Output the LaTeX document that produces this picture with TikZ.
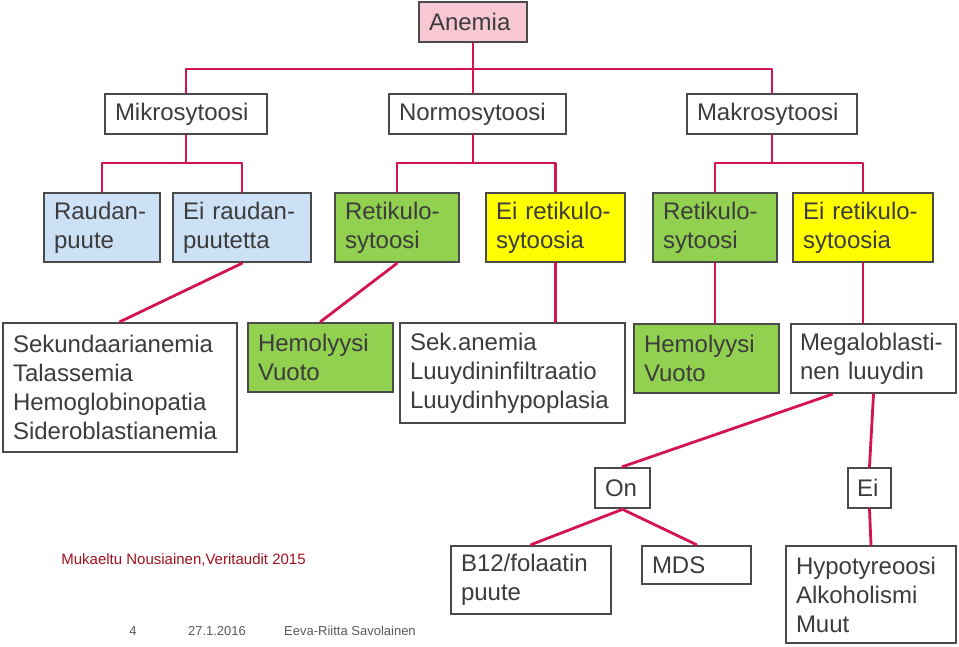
\documentclass[tikz,border=0pt]{standalone}
\usepackage{fontspec}
\setmainfont{Liberation Sans}
\definecolor{conncol}{HTML}{D4144F}
\definecolor{boxcol}{HTML}{4A4A4A}
\definecolor{txtcol}{HTML}{3C3C3C}
\definecolor{pinkfill}{HTML}{F8C7D4}
\definecolor{bluefill}{HTML}{CCE0F6}
\definecolor{greenfill}{HTML}{92D050}
\definecolor{yellowfill}{HTML}{FFFF00}
\definecolor{footred}{HTML}{A0101E}
\definecolor{footgray}{HTML}{595959}
\begin{document}
\begin{tikzpicture}[x=1pt,y=-1pt,
  box/.style={draw=boxcol, line width=2.6pt, inner xsep=10pt, inner ysep=0pt,
    align=left, text=txtcol, font=\fontsize{24}{29}\selectfont, anchor=center},
  conn/.style={draw=conncol, line width=2.8pt, line cap=round, line join=round},
  foot/.style={inner sep=0pt, anchor=center}]
\useasboundingbox (0,0) rectangle (959,646);
% level 1
\node[box, fill=pinkfill, text width=88pt, minimum height=40pt] (anemia) at (473,22) {Anemia};
% level 2
\node[box, fill=white, text width=142pt, minimum height=40pt] (mikro) at (186,114) {Mikrosytoosi};
\node[box, fill=white, text width=157pt, minimum height=40pt] (normo) at (477.5,114) {Normosytoosi};
\node[box, fill=white, text width=150pt, minimum height=40pt] (makro) at (772,114) {Makrosytoosi};
% level 3
\node[box, fill=bluefill, text width=96pt, minimum height=69pt] (rp) at (102,227.5) {Raudan-\\puute};
\node[box, fill=bluefill, text width=118pt, minimum height=69pt] (erp) at (242,227.5) {Ei raudan-\\puutetta};
\node[box, fill=greenfill, text width=104pt, minimum height=69pt] (r1) at (397,227.5) {Retikulo-\\sytoosi};
\node[box, fill=yellowfill, text width=119pt, minimum height=69pt] (er1) at (555.5,227.5) {Ei retikulo-\\sytoosia};
\node[box, fill=greenfill, text width=104pt, minimum height=69pt] (r2) at (715,227.5) {Retikulo-\\sytoosi};
\node[box, fill=yellowfill, text width=120pt, minimum height=69pt] (er2) at (863,227.5) {Ei retikulo-\\sytoosia};
% level 4
\node[box, fill=white, text width=214pt, minimum height=129pt] (sek) at (120,387.5) {Sekundaarianemia\\Talassemia\\Hemoglobinopatia\\Sideroblastianemia};
\node[box, fill=greenfill, text width=125pt, minimum height=69pt] (hem1) at (320.5,357.5) {Hemolyysi\\Vuoto};
\node[box, fill=white, text width=205pt, minimum height=100pt] (seka) at (512.5,373) {Sek.anemia\\Luuydininfiltraatio\\Luuydinhypoplasia};
\node[box, fill=greenfill, text width=125pt, minimum height=69pt] (hem2) at (706.5,358.5) {Hemolyysi\\Vuoto};
\node[box, fill=white, text width=147pt, inner xsep=9pt, minimum height=69pt] (mega) at (873.5,358.5) {Megaloblasti-\\nen luuydin};
% level 5
\node[box, fill=white, text width=35pt, minimum height=40pt] (on) at (622.5,488) {On};
\node[box, fill=white, text width=25pt, inner xsep=9pt, minimum height=40pt] (ei) at (869.5,488) {Ei};
% level 6
\node[box, fill=white, text width=140pt, minimum height=68pt] (b12) at (531,580) {B12/folaatin\\puute};
\node[box, fill=white, text width=89pt, minimum height=38pt] (mds) at (696.5,565) {MDS};
\node[box, fill=white, text width=150pt, minimum height=97pt] (hypo) at (871,594.5) {Hypotyreoosi\\Alkoholismi\\Muut};
% connectors
\coordinate (busA) at (0,69);
\coordinate (busB) at (0,163);
\draw[conn] (anemia.south) -- (anemia.south |- normo.north);
\draw[conn] (mikro.north) -- (mikro.north |- busA) -- (makro.north |- busA) -- (makro.north);
\draw[conn] (mikro.south) -- (mikro.south |- busB);
\draw[conn] (rp.north) -- (rp.north |- busB) -- (erp.north |- busB) -- (erp.north);
\draw[conn] ([xshift=-4.5pt]normo.south) -- ([xshift=-4.5pt]normo.south |- busB);
\draw[conn] (r1.north) -- (r1.north |- busB) -- (er1.north |- busB) -- (er1.north);
\draw[conn] (makro.south) -- (makro.south |- busB);
\draw[conn] (r2.north) -- (r2.north |- busB) -- (er2.north |- busB) -- (er2.north);
\draw[conn] (erp.south) -- (sek.north);
\draw[conn] (r1.south) -- (hem1.north);
\draw[conn] (er1.south) -- (er1.south |- seka.north);
\draw[conn] (r2.south) -- (r2.south |- hem2.north);
\draw[conn] (er2.south) -- (er2.south |- mega.north);
\draw[conn] ([xshift=-41.5pt]mega.south) -- (on.north);
\draw[conn] (mega.south) -- (ei.north);
\draw[conn] (on.south) -- (b12.north);
\draw[conn] (on.south) -- (mds.north);
\draw[conn] (ei.south) -- (hypo.north);
% footer
\node[foot, text=footred, font=\fontsize{15}{18}\selectfont] (cite) at (183.5,560) {Mukaeltu Nousiainen,Veritaudit 2015};
\node[foot, text=footgray, font=\fontsize{13}{16}\selectfont] (pg) at (133,631) {4};
\node[foot, text=footgray, font=\fontsize{13}{16}\selectfont] (date) at (217,631) {27.1.2016};
\node[foot, text=footgray, font=\fontsize{13}{16}\selectfont] (auth) at (350,631) {Eeva-Riitta Savolainen};
\end{tikzpicture}
\end{document}
